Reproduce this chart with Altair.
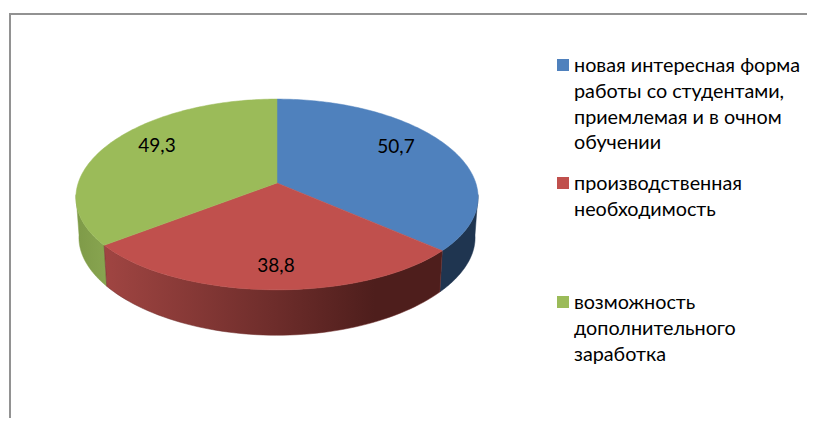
import math
import altair as alt
import pandas as pd

values = [50.7, 38.8, 49.3]
value_labels = ["50,7", "38,8", "49,3"]
colors = ["#4f81bd", "#c0504d", "#9bbb59"]
legend_lines = [
    ["новая интересная форма", "работы со студентами,", "приемлемая и в очном", "обучении"],
    ["производственная", "необходимость"],
    ["возможность", "дополнительного", "заработка"],
]
label_pos = [(396, 147), (276, 266), (157, 146)]
legend_tops = [66, 184, 303]
FONT = "Lato"
FS_LABEL = 19
FS_LEGEND = 19.8

CX, CY, B, A, KX, KY, KL = 277.0, 183.0, 198.8, 94.0, 0.15, 0.12, 0.2
total = sum(values)
cum = [0.0]
for v in values:
    cum.append(cum[-1] + v / total * 360)


def top(deg):
    t = math.radians(deg)
    X, Y = math.sin(t), math.cos(t)
    return CX + B * X / (1 + KX * Y), CY - A * Y / (1 + KY * Y)


def low(deg):
    t = math.radians(deg)
    X, Y = math.sin(t), math.cos(t)
    return CX + 0.985 * B * X / (1 + KX * Y), CY + 41 - 89 * Y / (1 + KL * Y)


def arc(fn, a, b, n=60):
    return [fn(a + (b - a) * i / n) for i in range(n + 1)]


X_ENC = alt.X("x:Q", scale=alt.Scale(domain=[8, 807], nice=False, zero=False), axis=None)
Y_ENC = alt.Y("y:Q", scale=alt.Scale(domain=[418, 8], nice=False, zero=False), axis=None)


def poly(points, fill, stroke):
    df = pd.DataFrame([{"x": p[0], "y": p[1], "i": i} for i, p in enumerate(points)])
    return alt.Chart(df).mark_line(
        interpolate="linear-closed", fill=fill, stroke=stroke, strokeWidth=0.5
    ).encode(x=X_ENC, y=Y_ENC, order="i:Q")


def side(a, b):
    return arc(top, a, b) + arc(low, b, a)


layers = []
# frame
frame_df = pd.DataFrame({"x": [807, 10, 10], "y": [14, 14, 418]})
layers.append(
    alt.Chart(frame_df.assign(i=range(3))).mark_line(color="#929292", strokeWidth=2)
    .encode(x=X_ENC, y=Y_ENC, order="i:Q")
)

SIL_R, SIL_L = 97.0, 263.0
layers.append(poly(side(SIL_R, cum[1]), "#1f3550", "#1f3550"))
layers.append(poly(side(cum[2], SIL_L),
                   alt.Gradient(gradient="linear", x1=0, x2=1, y1=0, y2=0,
                                stops=[alt.GradientStop(color="#7e9a48", offset=0),
                                       alt.GradientStop(color="#88a550", offset=1)]),
                   "#84a04c"))
layers.append(poly(side(cum[1], cum[2]),
                   alt.Gradient(gradient="linear", x1=0, x2=1, y1=0, y2=0,
                                stops=[alt.GradientStop(color="#a04542", offset=0),
                                       alt.GradientStop(color="#6e2d2b", offset=0.5),
                                       alt.GradientStop(color="#4e1e1c", offset=0.8),
                                       alt.GradientStop(color="#4e1e1c", offset=1)]),
                   "#6e2d2b"))
for i, c in enumerate(colors):
    layers.append(poly([(CX, CY)] + arc(top, cum[i], cum[i + 1], 120), c, c))

# data labels
lab_df = pd.DataFrame({"x": [p[0] for p in label_pos], "y": [p[1] for p in label_pos], "t": value_labels})
layers.append(
    alt.Chart(lab_df).mark_text(font=FONT, fontSize=FS_LABEL, color="#000000", align="center", baseline="middle")
    .encode(x=X_ENC, y=Y_ENC, text="t:N")
)

# legend
sq_df = pd.DataFrame({"x": [563] * 3, "y": [t - 1 for t in legend_tops], "c": colors})
layers.append(
    alt.Chart(sq_df).mark_square(size=144, opacity=1)
    .encode(x=X_ENC, y=Y_ENC, color=alt.Color("c:N", scale=None))
)
rows = []
for t, lines in zip(legend_tops, legend_lines):
    for j, line in enumerate(lines):
        rows.append({"x": 574, "y": t + j * 25.8, "t": line})
layers.append(
    alt.Chart(pd.DataFrame(rows)).mark_text(font=FONT, fontSize=FS_LEGEND, color="#000000", align="left", baseline="middle")
    .encode(x=X_ENC, y=Y_ENC, text="t:N")
)

chart = alt.layer(*layers).properties(
    width=799, height=410, padding=0, autosize=alt.AutoSizeParams(type="none"), background="white"
).configure_view(stroke=None)
chart.save("out.html", embed_options={"renderer": "svg", "actions": False})
